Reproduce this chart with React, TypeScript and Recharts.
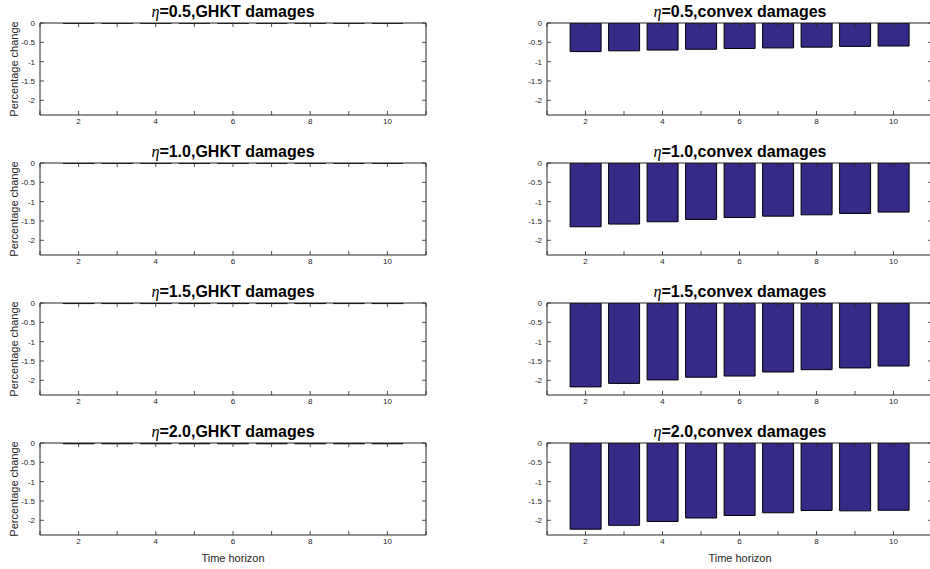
import React from 'react';
import { BarChart, Bar, XAxis, YAxis } from 'recharts';

// time horizon (periods) of each bar
const horizon = [2, 3, 4, 5, 6, 7, 8, 9, 10];

// GHKT damages: effect is (almost) zero everywhere
const ghkt05 = [-0.005, -0.005, -0.005, -0.005, -0.005, -0.005, -0.005, -0.005, -0.005];
const ghkt10 = [-0.008, -0.008, -0.008, -0.008, -0.008, -0.008, -0.008, -0.008, -0.008];
const ghkt15 = [-0.015, -0.015, -0.015, -0.015, -0.015, -0.015, -0.015, -0.015, -0.015];
const ghkt20 = [-0.02, -0.02, -0.02, -0.02, -0.02, -0.02, -0.02, -0.02, -0.02];

// convex damages
const convex05 = [-0.74, -0.72, -0.70, -0.68, -0.66, -0.645, -0.625, -0.605, -0.595];
const convex10 = [-1.65, -1.58, -1.52, -1.46, -1.41, -1.375, -1.34, -1.305, -1.27];
const convex15 = [-2.17, -2.08, -1.99, -1.92, -1.89, -1.785, -1.725, -1.68, -1.63];
const convex20 = [-2.23, -2.13, -2.03, -1.94, -1.875, -1.805, -1.745, -1.755, -1.74];

const etaLabels = ['0.5', '1.0', '1.5', '2.0'];
const ghktSeries = [ghkt05, ghkt10, ghkt15, ghkt20];
const convexSeries = [convex05, convex10, convex15, convex20];

const xTicks = [1, 2, 3, 4, 5, 6, 7, 8, 9, 10, 11];
const yTicks = [0, -0.5, -1, -1.5, -2];

const FONT = '"Liberation Sans", Arial, Helvetica, sans-serif';
const INK = '#262626';
const BAR = '#352A87';

// matlab-style ticks: marks point inward, labels outside
const BottomTick = (props: any) => {
  const { x, y, payload } = props;
  return (
    <g>
      <line x1={x} x2={x} y1={y} y2={y - 4} stroke={INK} strokeWidth={0.8} />
      {payload.value % 2 === 0 && (
        <text x={x} y={y + 9} textAnchor="middle" fontSize={8} fill={INK} fontFamily={FONT}>
          {payload.value}
        </text>
      )}
    </g>
  );
};

const TopTick = (props: any) => {
  const { x, y } = props;
  return <line x1={x} x2={x} y1={y} y2={y + 4} stroke={INK} strokeWidth={0.8} />;
};

const LeftTick = (props: any) => {
  const { x, y, payload } = props;
  return (
    <g>
      <line x1={x} x2={x + 4} y1={y} y2={y} stroke={INK} strokeWidth={0.8} />
      <text x={x - 5} y={y + 3} textAnchor="end" fontSize={8} fill={INK} fontFamily={FONT}>
        {String(payload.value)}
      </text>
    </g>
  );
};

const RightTick = (props: any) => {
  const { x, y } = props;
  return <line x1={x} x2={x - 4} y1={y} y2={y} stroke={INK} strokeWidth={0.8} />;
};

interface PanelProps {
  values: number[];
  left: number;
  top: number;
  marginLeft: number;
  marginRight: number;
}

const Panel: React.FC<PanelProps> = ({ values, left, top, marginLeft, marginRight }) => {
  const data = horizon.map((t, i) => ({ t, v: values[i] }));
  return (
    <div style={{ position: 'absolute', left, top }}>
      <BarChart
        width={460}
        height={140}
        data={data}
        margin={{ top: 22, right: marginRight, bottom: 5, left: marginLeft }}
        barCategoryGap="10%"
      >
        <XAxis
          xAxisId="b"
          dataKey="t"
          type="number"
          domain={[1, 11]}
          ticks={xTicks}
          interval={0}
          allowDataOverflow
          height={20}
          tickSize={0}
          tickMargin={0}
          tickLine={false}
          axisLine={{ stroke: INK, strokeWidth: 1 }}
          tick={BottomTick}
        />
        <XAxis
          xAxisId="t"
          orientation="top"
          dataKey="t"
          type="number"
          domain={[1, 11]}
          ticks={xTicks}
          interval={0}
          allowDataOverflow
          height={1}
          tickSize={0}
          tickMargin={0}
          tickLine={false}
          axisLine={{ stroke: INK, strokeWidth: 1 }}
          tick={TopTick}
        />
        <YAxis
          yAxisId="l"
          type="number"
          domain={[-2.38, 0]}
          ticks={yTicks}
          interval={0}
          allowDataOverflow
          width={30}
          tickSize={0}
          tickMargin={0}
          tickLine={false}
          axisLine={{ stroke: INK, strokeWidth: 1 }}
          tick={LeftTick}
        />
        <YAxis
          yAxisId="r"
          orientation="right"
          type="number"
          domain={[-2.38, 0]}
          ticks={yTicks}
          interval={0}
          allowDataOverflow
          width={1}
          tickSize={0}
          tickMargin={0}
          tickLine={false}
          axisLine={{ stroke: INK, strokeWidth: 1 }}
          tick={RightTick}
        />
        <Bar
          xAxisId="b"
          yAxisId="l"
          dataKey="v"
          fill={BAR}
          stroke="#000000"
          strokeWidth={1}
          isAnimationActive={false}
        />
      </BarChart>
    </div>
  );
};

const Title: React.FC<{ x: number; y: number; eta: string; kind: string }> = ({ x, y, eta, kind }) => (
  <text x={x} y={y} textAnchor="middle" fontSize={16} fontWeight="bold" fill="#000" fontFamily={FONT}>
    <tspan fontFamily='"Liberation Serif", "Times New Roman", serif' fontStyle="italic" fontWeight="normal">
      η
    </tspan>
    {`=${eta},${kind} damages`}
  </text>
);

export default function App() {
  return (
    <div
      style={{
        position: 'absolute',
        left: 0,
        top: 0,
        width: 930,
        height: 569,
        overflow: 'hidden',
        background: '#ffffff',
      }}
    >
      {etaLabels.map((eta, i) => (
        <React.Fragment key={eta}>
          <Panel values={ghktSeries[i]} left={0} top={140 * i} marginLeft={10} marginRight={33} />
          <Panel values={convexSeries[i]} left={510} top={140 * i} marginLeft={7} marginRight={37} />
        </React.Fragment>
      ))}
      <svg
        width={930}
        height={569}
        style={{ position: 'absolute', left: 0, top: 0, pointerEvents: 'none' }}
      >
        {etaLabels.map((eta, i) => (
          <React.Fragment key={eta}>
            <Title x={233} y={17 + 140 * i} eta={eta} kind="GHKT" />
            <Title x={740} y={17 + 140 * i} eta={eta} kind="convex" />
            <text
              transform={`translate(17.5, ${69 + 140 * i}) rotate(-90)`}
              textAnchor="middle"
              fontSize={11}
              fill={INK}
              fontFamily={FONT}
            >
              Percentage change
            </text>
          </React.Fragment>
        ))}
        <text x={233} y={562} textAnchor="middle" fontSize={11} fill={INK} fontFamily={FONT}>
          Time horizon
        </text>
        <text x={740} y={562} textAnchor="middle" fontSize={11} fill={INK} fontFamily={FONT}>
          Time horizon
        </text>
      </svg>
    </div>
  );
}
